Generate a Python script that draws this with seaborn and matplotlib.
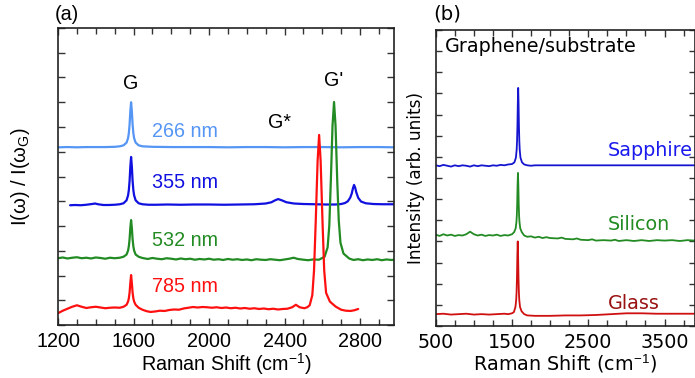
import numpy as np
import pandas as pd
import matplotlib
matplotlib.use("Agg")
import matplotlib.pyplot as plt
from matplotlib.ticker import MultipleLocator, FixedLocator, NullFormatter
import seaborn as sns

# ---------------- Data: panel (a) ----------------
x266 = [1200, 1250, 1300, 1350, 1400, 1450, 1500, 1527, 1547, 1563, 1571, 1575, 1579, 1583, 1587,
        1591, 1595, 1599, 1603, 1611, 1627, 1647, 1700, 1800, 1900, 2000, 2100, 2200, 2300, 2400,
        2500, 2600, 2700, 2800, 2900, 2980]
y266 = [7.18, 7.19, 7.18, 7.19, 7.19, 7.19, 7.20, 7.22, 7.26, 7.37, 7.55, 7.75, 8.10, 8.64, 9.00,
        8.64, 8.10, 7.75, 7.55, 7.37, 7.26, 7.22, 7.20, 7.19, 7.19, 7.19, 7.18, 7.19, 7.19, 7.18,
        7.19, 7.19, 7.18, 7.19, 7.19, 7.18]

x355 = [1264, 1290, 1320, 1350, 1380, 1396, 1412, 1440, 1470, 1500, 1527, 1547, 1563, 1571, 1575,
        1579, 1583, 1587, 1591, 1595, 1599, 1603, 1611, 1627, 1647, 1680, 1720, 1780, 1850, 1920,
        2000, 2080, 2160, 2240, 2300, 2330, 2350, 2366, 2385, 2410, 2450, 2500, 2560, 2620, 2670,
        2700, 2720, 2735, 2748, 2756, 2762, 2768, 2774, 2780, 2790, 2805, 2830, 2870, 2920, 2980]
y355 = [4.84, 4.85, 4.84, 4.86, 4.89, 4.91, 4.88, 4.85, 4.85, 4.86, 4.88, 4.92, 5.04, 5.24, 5.45,
        5.82, 6.40, 6.79, 6.40, 5.82, 5.45, 5.24, 5.04, 4.92, 4.88, 4.86, 4.86, 4.87, 4.86, 4.87,
        4.87, 4.86, 4.87, 4.88, 4.91, 4.96, 5.04, 5.09, 5.04, 4.96, 4.91, 4.89, 4.88, 4.87, 4.87,
        4.89, 4.93, 5.00, 5.15, 5.32, 5.52, 5.66, 5.55, 5.36, 5.14, 4.99, 4.92, 4.89, 4.88, 4.88]

x532 = [1200, 1225, 1250, 1275, 1300, 1325, 1350, 1375, 1400, 1425, 1450, 1475, 1500, 1527, 1547,
        1563, 1571, 1575, 1579, 1583, 1587, 1591, 1595, 1599, 1603, 1611, 1627, 1647, 1675, 1700,
        1725, 1750, 1775, 1800, 1825, 1850, 1875, 1900, 1925, 1950, 1975, 2000, 2025, 2050, 2075,
        2100, 2125, 2150, 2175, 2200, 2225, 2250, 2275, 2300, 2325, 2350, 2375, 2400, 2425, 2448,
        2470, 2500, 2525, 2550, 2582, 2612, 2628, 2637, 2645, 2654, 2662, 2670, 2679, 2687, 2696,
        2712, 2742, 2765, 2790, 2815, 2840, 2865, 2890, 2915, 2940, 2965, 2980]
y532 = [2.70, 2.73, 2.69, 2.72, 2.74, 2.70, 2.72, 2.69, 2.73, 2.71, 2.68, 2.72, 2.70, 2.72, 2.76,
        2.85, 3.01, 3.18, 3.47, 3.93, 4.24, 3.93, 3.47, 3.18, 3.01, 2.85, 2.76, 2.71, 2.67, 2.71,
        2.68, 2.66, 2.70, 2.68, 2.65, 2.69, 2.66, 2.68, 2.64, 2.67, 2.65, 2.68, 2.64, 2.66, 2.63,
        2.67, 2.64, 2.66, 2.63, 2.65, 2.62, 2.66, 2.64, 2.63, 2.66, 2.64, 2.62, 2.65, 2.68, 2.72,
        2.67, 2.64, 2.62, 2.65, 2.64, 2.76, 3.14, 4.03, 5.82, 8.05, 9.01, 8.05, 5.82, 4.23, 3.33,
        2.89, 2.69, 2.63, 2.66, 2.62, 2.65, 2.63, 2.66, 2.62, 2.65, 2.63, 2.64]

x785 = [1200, 1225, 1250, 1275, 1300, 1325, 1350, 1375, 1400, 1425, 1450, 1475, 1500, 1527, 1547,
        1563, 1571, 1575, 1579, 1583, 1587, 1591, 1595, 1599, 1603, 1611, 1627, 1647, 1670, 1690,
        1715, 1740, 1765, 1790, 1815, 1840, 1865, 1890, 1915, 1940, 1965, 1990, 2015, 2040, 2065,
        2090, 2115, 2140, 2165, 2190, 2215, 2240, 2265, 2290, 2315, 2340, 2365, 2390, 2415, 2440,
        2460, 2480, 2505, 2520, 2533, 2547, 2556, 2565, 2575, 2583, 2591, 2601, 2610, 2620, 2640,
        2670, 2700, 2725, 2750, 2770, 2790]
y785 = [0.48, 0.58, 0.66, 0.74, 0.80, 0.74, 0.69, 0.72, 0.74, 0.71, 0.68, 0.70, 0.71, 0.70, 0.74,
        0.82, 0.95, 1.08, 1.31, 1.70, 2.02, 1.70, 1.31, 1.08, 0.95, 0.82, 0.70, 0.62, 0.56, 0.53,
        0.55, 0.58, 0.57, 0.61, 0.63, 0.62, 0.67, 0.70, 0.73, 0.71, 0.73, 0.72, 0.70, 0.72, 0.69,
        0.71, 0.68, 0.70, 0.67, 0.69, 0.66, 0.68, 0.65, 0.67, 0.64, 0.66, 0.63, 0.65, 0.66, 0.72,
        0.82, 0.72, 0.68, 0.72, 0.80, 1.21, 2.20, 4.17, 6.63, 7.68, 6.63, 4.17, 2.20, 1.30, 0.95,
        0.75, 0.62, 0.58, 0.57, 0.60, 0.65]

# ---------------- Data: panel (b) ----------------
x_sap = [500, 550, 600, 650, 700, 750, 800, 850, 900, 950, 1000, 1050, 1100, 1150, 1200, 1250,
         1300, 1350, 1400, 1450, 1500, 1531, 1551, 1561, 1566, 1571, 1576, 1581, 1586, 1591, 1596,
         1601, 1611, 1631, 1660, 1700, 1750, 1800, 2500, 3000, 3500, 3900]
y_sap = [3.80, 3.78, 3.81, 3.79, 3.77, 3.80, 3.78, 3.80, 3.79, 3.77, 3.80, 3.78, 3.80, 3.79, 3.78,
         3.80, 3.79, 3.81, 3.80, 3.82, 3.83, 3.87, 3.98, 4.17, 4.37, 4.72, 5.26, 5.63, 5.26, 4.72,
         4.37, 4.17, 3.98, 3.87, 3.82, 3.80, 3.79, 3.80, 3.80, 3.80, 3.80, 3.80]

x_si = [500, 550, 600, 650, 700, 750, 800, 850, 900, 950, 1000, 1050, 1100, 1150, 1200, 1250, 1300,
        1350, 1400, 1450, 1500, 1528, 1548, 1558, 1563, 1568, 1573, 1578, 1583, 1588, 1593, 1598,
        1608, 1628, 1660, 1700, 1750, 1800, 1850, 1900, 1950, 2000, 2100, 2150, 2200, 2300, 2350,
        2400, 2500, 2550, 2600, 2700, 2800, 2850, 2900, 3000, 3100, 3200, 3300, 3400, 3500, 3600,
        3700, 3800, 3900]
y_si = [2.16, 2.13, 2.17, 2.14, 2.16, 2.13, 2.15, 2.14, 2.17, 2.23, 2.17, 2.14, 2.16, 2.13, 2.15,
        2.14, 2.16, 2.13, 2.15, 2.14, 2.17, 2.22, 2.31, 2.46, 2.61, 2.89, 3.33, 3.62, 3.33, 2.89,
        2.61, 2.46, 2.31, 2.22, 2.14, 2.11, 2.12, 2.09, 2.11, 2.08, 2.10, 2.08, 2.07, 2.09, 2.06,
        2.05, 2.07, 2.04, 2.03, 2.05, 2.02, 2.03, 2.02, 2.04, 2.01, 2.03, 2.01, 2.03, 2.01, 2.03,
        2.02, 2.03, 2.01, 2.03, 2.02]

x_gl = [500, 600, 700, 800, 900, 1000, 1100, 1200, 1300, 1400, 1450, 1500, 1525, 1545, 1555, 1560,
        1565, 1570, 1575, 1580, 1585, 1590, 1595, 1605, 1625, 1660, 1700, 1800, 1900, 2000, 2200,
        2400, 2600, 2800, 3000, 3200, 3400, 3600, 3900]
y_gl = [0.28, 0.29, 0.27, 0.28, 0.29, 0.27, 0.28, 0.27, 0.28, 0.29, 0.28, 0.30, 0.33, 0.45, 0.62,
        0.81, 1.14, 1.66, 2.00, 1.66, 1.14, 0.81, 0.62, 0.45, 0.35, 0.28, 0.25, 0.24, 0.24, 0.24,
        0.25, 0.25, 0.26, 0.28, 0.30, 0.30, 0.29, 0.29, 0.29]

labels_a = ["266 nm", "355 nm", "532 nm", "785 nm"]
labels_b = ["Sapphire", "Silicon", "Glass"]
xticks_a = [1200, 1600, 2000, 2400, 2800]
xticks_b = [500, 1500, 2500, 3500]

# ---------------- Styling ----------------
sns.set_style("ticks")
plt.rcParams['font.family'] = ['Liberation Sans', 'DejaVu Sans']
plt.rcParams['mathtext.fontset'] = 'custom'
plt.rcParams['mathtext.rm'] = 'Liberation Sans'
plt.rcParams['text.color'] = 'black'
plt.rcParams['axes.labelcolor'] = 'black'
plt.rcParams['xtick.color'] = 'black'
plt.rcParams['ytick.color'] = 'black'

col_a = ["#5596f5", "#1010e0", "#238b23", "#ff1010"]
col_b_line = ["#1515d0", "#238b23", "#d01010"]
col_b_text = ["#1a1aee", "#238b23", "#991111"]

fig = plt.figure(figsize=(6.95, 3.78), dpi=100)
axA = fig.add_axes([0.0835, 0.140, 0.4835, 0.786])
axB = fig.add_axes([0.627, 0.1376, 0.373, 0.783])

series_a = [(x266, y266), (x355, y355), (x532, y532), (x785, y785)]
for (xs, ys), c in zip(series_a, col_a):
    sns.lineplot(x=xs, y=ys, ax=axA, color=c, linewidth=1.6, sort=False, estimator=None)

series_b = [(x_sap, y_sap), (x_si, y_si), (x_gl, y_gl)]
for (xs, ys), c in zip(series_b, col_b_line):
    sns.lineplot(x=xs, y=ys, ax=axB, color=c, linewidth=1.3, sort=False, estimator=None)

FA = 14.2
FB = 13.8

# Panel (a) axes
axA.set_xlim(1200, 2980)
axA.set_ylim(0, 12)
axA.xaxis.set_major_locator(FixedLocator(xticks_a))
axA.xaxis.set_minor_locator(MultipleLocator(100))
axA.yaxis.set_major_locator(MultipleLocator(1))
axA.yaxis.set_major_formatter(NullFormatter())
axA.tick_params(which='both', direction='in', top=True, right=True, width=1.0, color='#333333')
axA.tick_params(which='major', length=5, labelsize=FA, pad=5)
axA.tick_params(which='minor', length=4)
for lab in axA.get_xticklabels():
    lab.set_family('Liberation Sans')
axA.set_xlabel("Raman Shift (cm$^{-1}$)", fontsize=FA, family='Liberation Sans', labelpad=0)
axA.set_ylabel("I(ω) / I(ω$_{\\rm G}$)", fontsize=14.5, family='Liberation Sans', labelpad=14)
for s in axA.spines.values():
    s.set_linewidth(1.2)
    s.set_color('#222222')

ta_x = [1700, 1700, 1700, 1700]
ta_y = [7.8, 5.74, 3.43, 1.54]
for t, c, xx, yy in zip(labels_a, col_a, ta_x, ta_y):
    axA.text(xx, yy, t, color=c, fontsize=FA, ha='left', va='center', family='Liberation Sans')
axA.text(1587, 9.74, "G", fontsize=FA, ha='center', va='center', family='Liberation Sans')
axA.text(2371, 8.2, "G*", fontsize=FA, ha='center', va='center', family='Liberation Sans')
axA.text(2662, 9.86, "G'", fontsize=FA, ha='center', va='center', family='Liberation Sans')
fig.text(55 / 695, 1 - 14 / 378, "(a)", fontsize=FA, ha='left', va='center', family='Liberation Sans')

# Panel (b) axes
axB.set_xlim(500, 3900)
axB.set_ylim(0, 7)
axB.xaxis.set_major_locator(FixedLocator(xticks_b))
axB.xaxis.set_minor_locator(MultipleLocator(250))
axB.yaxis.set_major_locator(MultipleLocator(0.5))
axB.yaxis.set_major_formatter(NullFormatter())
axB.tick_params(which='both', direction='in', top=True, right=True, width=1.0, color='#333333')
axB.tick_params(which='major', length=5, labelsize=FB, pad=5)
axB.tick_params(which='minor', length=4)
axB.tick_params(axis='y', which='major', length=4)
for lab in axB.get_xticklabels():
    lab.set_family('DejaVu Sans')
axB.set_xlabel("Raman Shift (cm$^{-1}$)", fontsize=FB, family='DejaVu Sans', labelpad=0)
axB.set_ylabel("Intensity (arb. units)", fontsize=12.2, family='DejaVu Sans', labelpad=3)
for s in axB.spines.values():
    s.set_linewidth(1.2)
    s.set_color('#222222')

tb_y = [4.16, 2.41, 0.54]
for t, c, yy in zip(labels_b, col_b_text, tb_y):
    axB.text(2755, yy, t, color=c, fontsize=FB, ha='left', va='center', family='DejaVu Sans')
axB.text(620, 6.62, "Graphene/substrate", fontsize=FB, ha='left', va='center', family='DejaVu Sans')
fig.text(433 / 695, 1 - 14 / 378, "(b)", fontsize=FA, ha='left', va='center', family='DejaVu Sans')

fig.savefig("out.png", dpi=100)
